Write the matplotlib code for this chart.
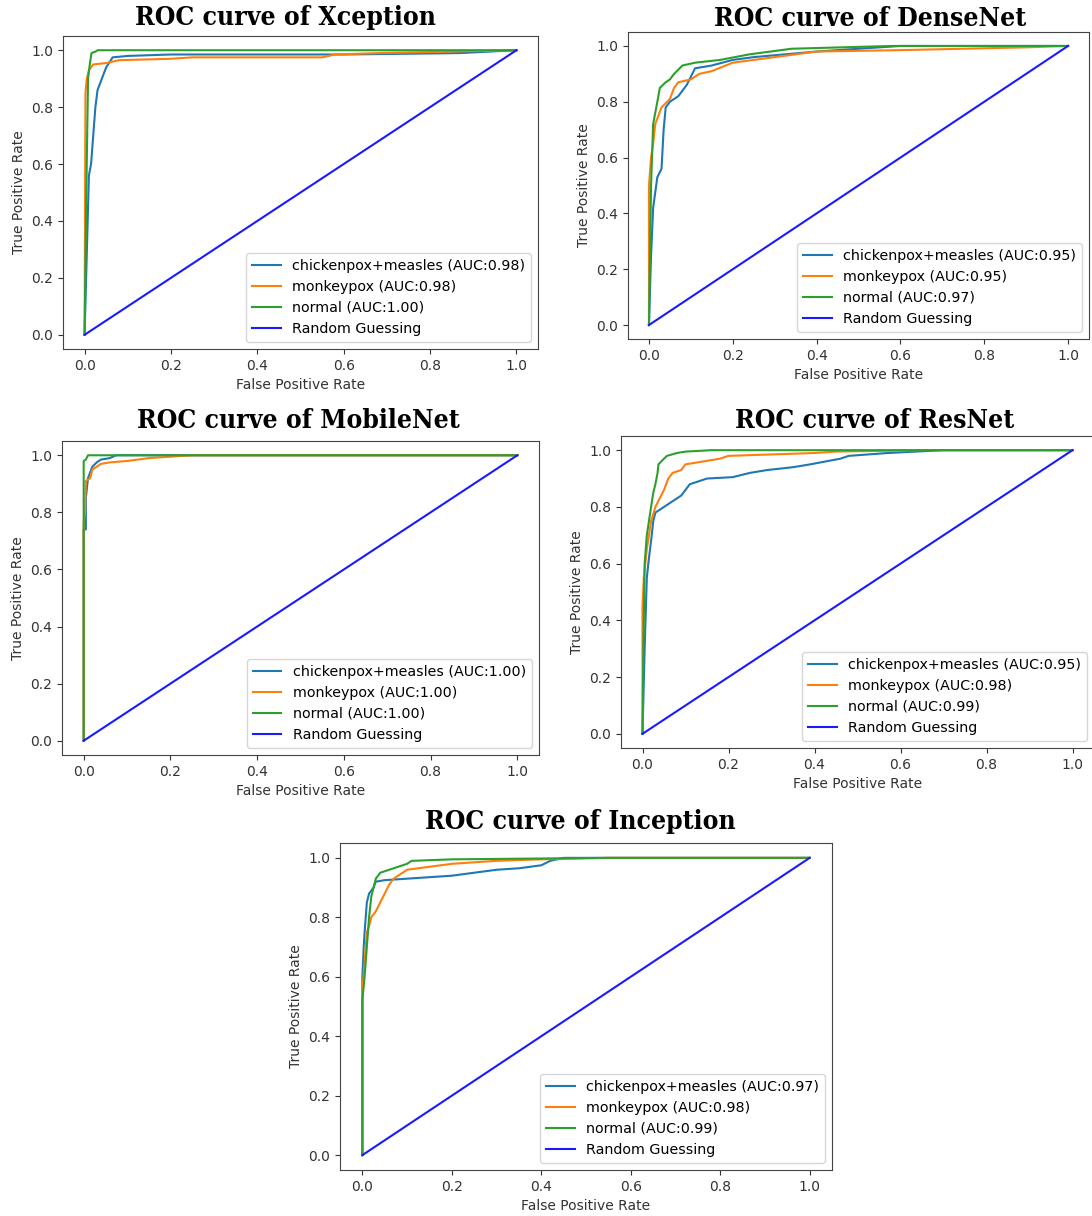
import matplotlib
matplotlib.use("Agg")
import matplotlib.pyplot as plt

W, H = 1092, 1216

# ---------------- data ----------------
classes = ["chickenpox+measles", "monkeypox", "normal"]
class_colors = ["#1f77b4", "#ff7f0e", "#2ca02c"]

# Xception
xc_auc = [0.98, 0.98, 1.00]
xc_cm_fpr = [0, 0.01, 0.015, 0.02, 0.025, 0.03, 0.04, 0.05, 0.065, 0.1, 0.2, 0.6, 0.87, 1.0]
xc_cm_tpr = [0, 0.56, 0.6, 0.7, 0.8, 0.86, 0.9, 0.94, 0.975, 0.98, 0.985, 0.985, 0.99, 1.0]
xc_mp_fpr = [0, 0.002, 0.005, 0.01, 0.02, 0.05, 0.08, 0.2, 0.25, 0.55, 0.58, 0.68, 1.0]
xc_mp_tpr = [0, 0.85, 0.9, 0.93, 0.95, 0.955, 0.965, 0.97, 0.975, 0.975, 0.985, 0.99, 1.0]
xc_nm_fpr = [0, 0.004, 0.008, 0.012, 0.016, 0.025, 0.03, 0.12, 1.0]
xc_nm_tpr = [0, 0.5, 0.9, 0.95, 0.99, 0.995, 1.0, 1.0, 1.0]

# DenseNet
dn_auc = [0.95, 0.95, 0.97]
dn_cm_fpr = [0, 0.005, 0.01, 0.02, 0.03, 0.035, 0.04, 0.05, 0.07, 0.09, 0.11, 0.15, 0.2, 0.25, 0.4, 0.5, 0.6, 1.0]
dn_cm_tpr = [0, 0.25, 0.42, 0.53, 0.56, 0.7, 0.78, 0.8, 0.82, 0.86, 0.92, 0.93, 0.95, 0.96, 0.98, 0.99, 1.0, 1.0]
dn_mp_fpr = [0, 0.0, 0.005, 0.01, 0.015, 0.03, 0.05, 0.06, 0.07, 0.1, 0.12, 0.15, 0.2, 0.3, 0.4, 0.6, 0.9, 1.0]
dn_mp_tpr = [0, 0.5, 0.6, 0.65, 0.72, 0.78, 0.81, 0.85, 0.87, 0.88, 0.9, 0.91, 0.94, 0.96, 0.98, 0.985, 0.995, 1.0]
dn_nm_fpr = [0, 0.002, 0.005, 0.01, 0.02, 0.026, 0.04, 0.05, 0.06, 0.08, 0.11, 0.17, 0.24, 0.34, 0.58, 1.0]
dn_nm_tpr = [0, 0.2, 0.5, 0.72, 0.8, 0.85, 0.87, 0.88, 0.9, 0.93, 0.94, 0.95, 0.97, 0.99, 1.0, 1.0]

# MobileNet
mb_auc = [1.00, 1.00, 1.00]
mb_cm_fpr = [0, 0.0, 0.005, 0.005, 0.01, 0.02, 0.03, 0.04, 0.06, 0.075, 1.0]
mb_cm_tpr = [0, 0.74, 0.74, 0.85, 0.92, 0.96, 0.975, 0.985, 0.99, 1.0, 1.0]
mb_mp_fpr = [0, 0.0, 0.003, 0.005, 0.015, 0.02, 0.04, 0.06, 0.1, 0.15, 0.2, 0.25, 1.0]
mb_mp_tpr = [0, 0.76, 0.8, 0.91, 0.92, 0.95, 0.97, 0.975, 0.98, 0.99, 0.995, 1.0, 1.0]
mb_nm_fpr = [0, 0.0, 0.005, 0.01, 1.0]
mb_nm_tpr = [0, 0.98, 0.985, 1.0, 1.0]

# ResNet
rn_auc = [0.95, 0.98, 0.99]
rn_cm_fpr = [0, 0.005, 0.01, 0.015, 0.02, 0.025, 0.03, 0.05, 0.07, 0.09, 0.1, 0.11, 0.15, 0.21, 0.25, 0.29, 0.35, 0.39, 0.46, 0.48, 0.57, 0.7, 1.0]
rn_cm_tpr = [0, 0.3, 0.55, 0.62, 0.68, 0.75, 0.78, 0.8, 0.82, 0.84, 0.86, 0.88, 0.9, 0.905, 0.92, 0.93, 0.94, 0.95, 0.97, 0.98, 0.99, 1.0, 1.0]
rn_mp_fpr = [0, 0.0, 0.003, 0.01, 0.02, 0.03, 0.04, 0.05, 0.06, 0.07, 0.09, 0.1, 0.14, 0.18, 0.2, 0.3, 0.4, 0.45, 0.65, 1.0]
rn_mp_tpr = [0, 0.45, 0.55, 0.65, 0.75, 0.8, 0.83, 0.86, 0.9, 0.92, 0.93, 0.95, 0.96, 0.97, 0.98, 0.985, 0.99, 0.995, 1.0, 1.0]
rn_nm_fpr = [0, 0.002, 0.005, 0.01, 0.015, 0.02, 0.025, 0.03, 0.035, 0.037, 0.05, 0.057, 0.08, 0.1, 0.16, 1.0]
rn_nm_tpr = [0, 0.3, 0.6, 0.7, 0.75, 0.8, 0.85, 0.88, 0.92, 0.95, 0.97, 0.98, 0.99, 0.995, 1.0, 1.0]

# Inception
ic_auc = [0.97, 0.98, 0.99]
ic_cm_fpr = [0, 0.0, 0.003, 0.005, 0.01, 0.015, 0.025, 0.03, 0.05, 0.1, 0.2, 0.25, 0.3, 0.35, 0.4, 0.42, 0.45, 1.0]
ic_cm_tpr = [0, 0.6, 0.7, 0.75, 0.85, 0.88, 0.9, 0.92, 0.925, 0.93, 0.94, 0.95, 0.96, 0.965, 0.975, 0.99, 1.0, 1.0]
ic_mp_fpr = [0, 0.0, 0.005, 0.01, 0.015, 0.02, 0.03, 0.04, 0.05, 0.06, 0.07, 0.09, 0.1, 0.15, 0.2, 0.3, 0.4, 0.55, 1.0]
ic_mp_tpr = [0, 0.55, 0.65, 0.75, 0.77, 0.8, 0.82, 0.85, 0.88, 0.91, 0.93, 0.95, 0.96, 0.97, 0.98, 0.99, 0.995, 1.0, 1.0]
ic_nm_fpr = [0, 0.0, 0.005, 0.01, 0.015, 0.02, 0.025, 0.03, 0.04, 0.06, 0.08, 0.1, 0.11, 0.2, 0.55, 1.0]
ic_nm_tpr = [0, 0.52, 0.6, 0.7, 0.8, 0.87, 0.9, 0.93, 0.95, 0.96, 0.97, 0.98, 0.99, 0.995, 1.0, 1.0]

random_x = [0, 1]
random_y = [0, 1]

panel_names = ["Xception", "DenseNet", "MobileNet", "ResNet", "Inception"]

# ---------------- layout (pixels: left, top, right, bottom) ----------------
panels = [
    dict(name="Xception", box=(63, 36, 538, 349), title=(285, 18),
         curves=[(xc_cm_fpr, xc_cm_tpr), (xc_mp_fpr, xc_mp_tpr), (xc_nm_fpr, xc_nm_tpr)], auc=xc_auc),
    dict(name="DenseNet", box=(628, 32, 1089, 339), title=(870, 18),
         curves=[(dn_cm_fpr, dn_cm_tpr), (dn_mp_fpr, dn_mp_tpr), (dn_nm_fpr, dn_nm_tpr)], auc=dn_auc),
    dict(name="MobileNet", box=(62, 441, 539, 755), title=(298, 420),
         curves=[(mb_cm_fpr, mb_cm_tpr), (mb_mp_fpr, mb_mp_tpr), (mb_nm_fpr, mb_nm_tpr)], auc=mb_auc),
    dict(name="ResNet", box=(621, 436, 1094, 748), title=(875, 420),
         curves=[(rn_cm_fpr, rn_cm_tpr), (rn_mp_fpr, rn_mp_tpr), (rn_nm_fpr, rn_nm_tpr)], auc=rn_auc),
    dict(name="Inception", box=(340, 843, 832, 1170), title=(580, 822),
         curves=[(ic_cm_fpr, ic_cm_tpr), (ic_mp_fpr, ic_mp_tpr), (ic_nm_fpr, ic_nm_tpr)], auc=ic_auc),
]

fig = plt.figure(figsize=(W / 100, H / 100), dpi=100)
fig.patch.set_facecolor("white")

for p in panels:
    l, t, r, b = p["box"]
    ax = fig.add_axes([l / W, 1 - b / H, (r - l) / W, (b - t) / H])
    for (fx, ty), cname, col, a in zip(p["curves"], classes, class_colors, p["auc"]):
        ax.plot(fx, ty, color=col, lw=1.5, label=f"{cname} (AUC:{a:.2f})")
    ax.plot(random_x, random_y, color="#1a1aff", lw=1.5, label="Random Guessing")
    ax.set_xlabel("False Positive Rate", fontsize=10, color="#333333")
    ax.set_ylabel("True Positive Rate", fontsize=10, color="#333333")
    ax.tick_params(labelsize=10, colors="#333333")
    ax.legend(loc="lower right", fontsize=10.3)
    for s in ax.spines.values():
        s.set_color("#444444")
    tx, ty0 = p["title"]
    fig.text(tx / W, 1 - ty0 / H, f"ROC curve of {p['name']}", ha="center", va="center",
             fontsize=19, fontweight="bold", fontstretch="condensed", family="DejaVu Serif")

fig.savefig("out.png", dpi=100)
